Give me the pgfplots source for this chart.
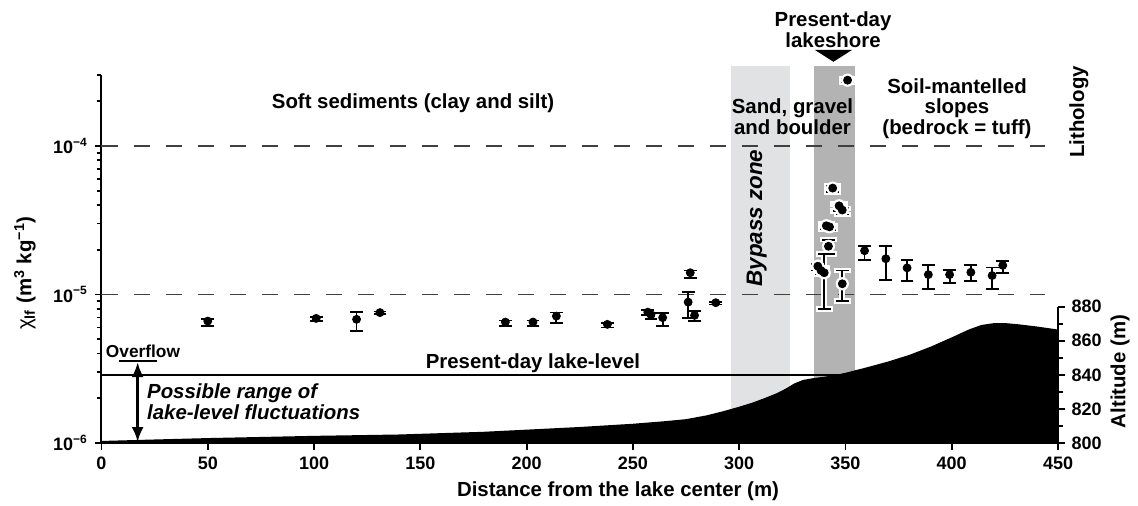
\documentclass[border=0pt]{standalone}
\usepackage{fontspec}
\setmainfont{Liberation Sans}
\usepackage{pgfplots}
\pgfplotsset{compat=1.18}
\usepackage{pgfplotstable}
\usetikzlibrary{arrows.meta}
\definecolor{zoneA}{HTML}{E1E2E4}
\definecolor{zoneB}{HTML}{B3B3B3}
\newcommand{\annf}{\bfseries\fontsize{10.2}{10.2}\selectfont}
\newcommand{\tickf}{\bfseries\fontsize{9}{9}\selectfont}

\pgfplotstableread{
x y ep em
50 6.62e-6 0.2e-6 0.45e-6
101 6.9e-6 0.15e-6 0.3e-6
120 6.8e-6 0.85e-6 1.1e-6
131 7.55e-6 0.12e-6 0.2e-6
190 6.52e-6 0.15e-6 0.35e-6
203 6.52e-6 0.15e-6 0.35e-6
214 7.15e-6 0.4e-6 0.75e-6
238 6.29e-6 0.15e-6 0.3e-6
257 7.6e-6 0.25e-6 0.35e-6
258.5 7.3e-6 0.2e-6 0.5e-6
264 6.98e-6 0.55e-6 0.85e-6
276 8.88e-6 1.5e-6 1.9e-6
277 1.40e-5 0.05e-5 0.11e-5
279 7.23e-6 0.5e-6 0.6e-6
289 8.8e-6 0.15e-6 0.25e-6
}\soft

\pgfplotstableread{
x y ep em
337 1.55e-5 0.05e-5 0.1e-5
338.5 1.45e-5 0.05e-5 0.08e-5
340 1.40e-5 0.48e-5 0.6e-5
341 2.9e-5 0.08e-5 0.15e-5
342.5 2.85e-5 0.05e-5 0.12e-5
342 2.11e-5 0.23e-5 0.23e-5
344 5.2e-5 0.15e-5 0.3e-5
347 3.95e-5 0.1e-5 0.3e-5
348.5 3.7e-5 0.1e-5 0.25e-5
348.5 1.18e-5 0.27e-5 0.28e-5
351 2.77e-4 0.06e-4 0.1e-4
}\shore

\pgfplotstableread{
x y ep em
359 1.97e-5 0.15e-5 0.27e-5
369 1.74e-5 0.38e-5 0.49e-5
379 1.51e-5 0.19e-5 0.28e-5
389 1.36e-5 0.21e-5 0.27e-5
399 1.36e-5 0.11e-5 0.16e-5
409 1.41e-5 0.16e-5 0.18e-5
419 1.34e-5 0.18e-5 0.25e-5
424 1.57e-5 0.10e-5 0.17e-5
}\slopes

\pgfplotstableread{
x alt
0 800
0 801.2
20 801.9
50 802.9
100 804.2
140 805.0
180 806.6
225 809.4
250 811.3
265 812.8
275 814.0
285 816.3
292 818.5
300 821.3
306 823.6
312 826.4
318 829.4
322 832.0
326 835.0
330 837.0
335 838.1
340 838.9
345 839.9
350 841.2
360 844.4
370 847.8
380 851.7
390 856.5
400 862.0
408 866.6
414 869.3
420 870.4
426 870.3
432 869.6
440 868.4
450 866.6
450 800
}\profile

\pgfplotsset{
  pts/.style={only marks, mark=*, mark size=2pt, black,
    error bars/.cd, y dir=both, y explicit,
    error bar style={line width=0.9pt, black},
    error mark options={rotate=90, line width=0.9pt, mark size=3.2pt, black}},
  halo/.style={only marks, mark=*, mark size=3.1pt, white, mark options={fill=white, draw=white},
    error bars/.cd, y dir=both, y explicit,
    error bar style={line width=2.8pt, white},
    error mark options={rotate=90, line width=2.8pt, mark size=4.3pt, white}},
}

\begin{document}
\begin{tikzpicture}
\useasboundingbox (-50.75pt,-31pt) rectangle (518.25pt,221.5pt);
\begin{axis}[
  at={(0,0)}, anchor=south west,
  scale only axis, width=478.25pt, height=184pt,
  xmin=0, xmax=450, ymode=log, ymin=1e-6, ymax=3e-4,
  axis x line*=bottom, axis y line*=left,
  axis line style={line width=1pt},
  tick align=outside,
  major tick length=3.3pt, minor tick length=2.3pt,
  every tick/.style={black, line width=0.9pt},
  xtick={0,50,...,450},
  ytick={1e-6,1e-5,1e-4},
  yticklabels={10\textsuperscript{−6},10\textsuperscript{−5},10\textsuperscript{−4}},
  minor ytick={2e-6,3e-6,4e-6,5e-6,6e-6,7e-6,8e-6,9e-6,2e-5,3e-5,4e-5,5e-5,6e-5,7e-5,8e-5,9e-5,2e-4,3e-4},
  ticklabel style={font=\tickf},
  /pgf/number format/assume math mode=true,
  clip=false,
]
% lithology zones
\addplot[fill=zoneA, draw=none] coordinates {(296,1e-6) (296,3.45e-4) (324,3.45e-4) (324,1e-6)};
\addplot[fill=zoneB, draw=none] coordinates {(335,1e-6) (335,3.45e-4) (354.3,3.45e-4) (354.3,1e-6)};
% reference lines
\addplot[black!75, line width=0.75pt, dash pattern=on 8pt off 8pt] coordinates {(0,1e-4) (444,1e-4)};
\addplot[black!75, line width=0.75pt, dash pattern=on 8pt off 8pt] coordinates {(0,1e-5) (444,1e-5)};
% data
\addplot[pts] table[x=x, y=y, y error plus=ep, y error minus=em] {\soft};
\addplot[halo] table[x=x, y=y, y error plus=ep, y error minus=em] {\shore};
\addplot[pts] table[x=x, y=y, y error plus=ep, y error minus=em] {\shore};
\addplot[pts] table[x=x, y=y, y error plus=ep, y error minus=em] {\slopes};
% texts
\node[font=\annf] at (rel axis cs:0.3257,0.9239) {Soft sediments (clay and silt)};
\node[font=\annf, align=center] at (rel axis cs:0.7224,0.8872) {Sand, gravel\\and boulder};
\node[font=\annf, align=center] at (rel axis cs:0.8944,0.909) {Soil-mantelled\\slopes\\(bedrock = tuff)};
\node[font=\annf, align=center] at (rel axis cs:0.7648,1.1236) {Present-day\\lakeshore};
\fill (rel axis cs:0.7459,1.068) -- (rel axis cs:0.7846,1.068) -- (rel axis cs:0.7652,1.036) -- cycle;
\node[font=\annf, rotate=90] at (rel axis cs:1.0219,0.8995) {Lithology};
\node[font=\bfseries\itshape\fontsize{11.2}{11.2}\selectfont, rotate=90] at (rel axis cs:0.685,0.6114) {Bypass zone};
\node[font=\annf] at (rel axis cs:0.4511,0.2174) {Present-day lake-level};
\node[font=\bfseries\fontsize{8.65}{8.65}\selectfont] at (rel axis cs:0.0434,0.2486) {Overflow};
\node[font=\annf\itshape, align=left, anchor=west, inner sep=0pt] at (rel axis cs:0.0473,0.1122) {Possible range of\\lake-level fluctuations};
\node[font=\annf] at (rel axis cs:0.54,-0.1323) {Distance from the lake center (m)};
\node[font=\annf, rotate=90] at (rel axis cs:-0.08,0.462) {{\mdseries χ}\textsubscript{lf} (m\textsuperscript{3} kg\textsuperscript{−1})};
\end{axis}

\begin{axis}[
  at={(0,0)}, anchor=south west,
  scale only axis, width=478.25pt, height=184pt,
  xmin=0, xmax=450, ymin=800, ymax=1016,
  axis x line=none, axis y line*=right,
  y axis line style={draw=none},
  tick align=outside,
  major tick length=3.3pt, minor tick length=2.3pt,
  every tick/.style={black, line width=0.9pt},
  ytick={800,820,840,860,880},
  minor ytick={810,830,850,870},
  yticklabel style={font=\tickf},
  /pgf/number format/assume math mode=true,
  clip=false,
]
\addplot[black, line width=1.2pt] coordinates {(0,840) (348,840)};
\addplot[fill=black, draw=none] table[x=x, y=alt] {\profile};
\addplot[black, line width=1pt] coordinates {(8,848) (26,848)};
\addplot[black, line width=1.5pt, {Latex[length=7.5pt,width=6pt]}-{Latex[length=7.5pt,width=6pt]}] coordinates {(17,847.5) (17,800.5)};
\addplot[black, line width=1pt] coordinates {(450,800) (450,880)};
\node[font=\annf, rotate=90] at (rel axis cs:1.0648,0.1943) {Altitude (m)};
\end{axis}
\end{tikzpicture}
\end{document}
